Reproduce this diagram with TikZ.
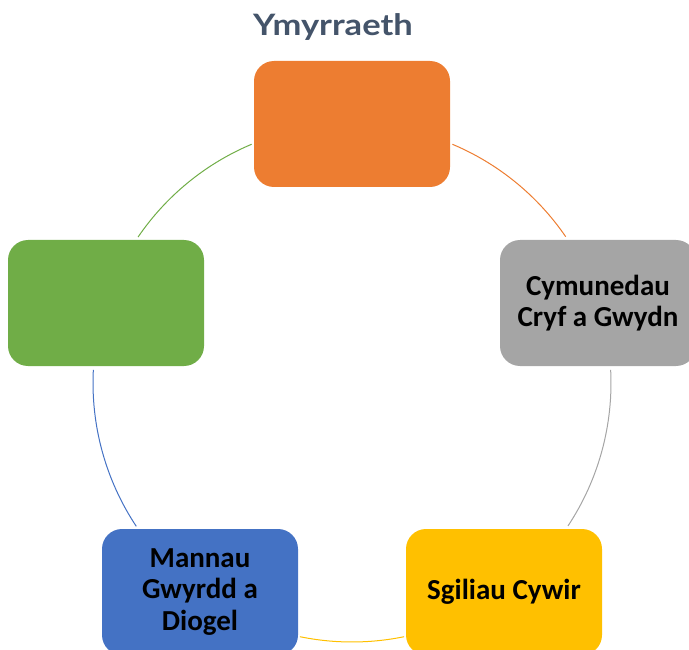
\documentclass[tikz,border=0pt]{standalone}
\usepackage{fontspec}
\setmainfont{Carlito}
\newfontfamily\titlefont{Lato}
\definecolor{orgc}{HTML}{ED7D31}
\definecolor{gryc}{HTML}{A5A5A5}
\definecolor{ylwc}{HTML}{FFC000}
\definecolor{bluc}{HTML}{4472C4}
\definecolor{grnc}{HTML}{70AD47}
\definecolor{titlec}{HTML}{44546A}
\begin{document}
\begin{tikzpicture}[x=1pt,y=1pt,
  box/.style={rounded corners=20pt, minimum width=196pt, minimum height=126pt, inner sep=0pt,
    align=center, text=black, font=\bfseries\fontsize{29}{31.5}\selectfont},
  arcline/.style={line width=1pt}]
\useasboundingbox (0,0) rectangle (689,-650);
\coordinate (c) at (352,-383);
\draw[arcline, orgc] ([shift={(67.2:259pt)}]c) arc[start angle=67.2, end angle=34.4, radius=259pt];
\draw[arcline, gryc] ([shift={(2.9:259pt)}]c) arc[start angle=2.9, end angle=-33.5, radius=259pt];
\draw[arcline, ylwc] ([shift={(281.6:259pt)}]c) arc[start angle=281.6, end angle=258.4, radius=259pt];
\draw[arcline, bluc] ([shift={(213.6:259pt)}]c) arc[start angle=213.6, end angle=177.1, radius=259pt];
\draw[arcline, grnc] ([shift={(145.7:259pt)}]c) arc[start angle=145.7, end angle=112.8, radius=259pt];
\node[box, fill=orgc] (o) at (352,-124) {};
\node[box, fill=gryc] (g) at (598,-303) {Cymunedau\\Cryf a Gwydn};
\node[box, fill=ylwc] (y) at (504,-592) {Sgiliau Cywir};
\node[box, fill=bluc] (b) at (200,-592) {Mannau\\Gwyrdd a\\Diogel};
\node[box, fill=grnc] (n) at (106,-303) {};
\node[font=\titlefont\bfseries\fontsize{29.5}{36}\selectfont, text=titlec, anchor=base, inner sep=0pt] (t) at (333,-36) {\scalebox{1.17}[1]{Ymyrraeth}};
\end{tikzpicture}
\end{document}
